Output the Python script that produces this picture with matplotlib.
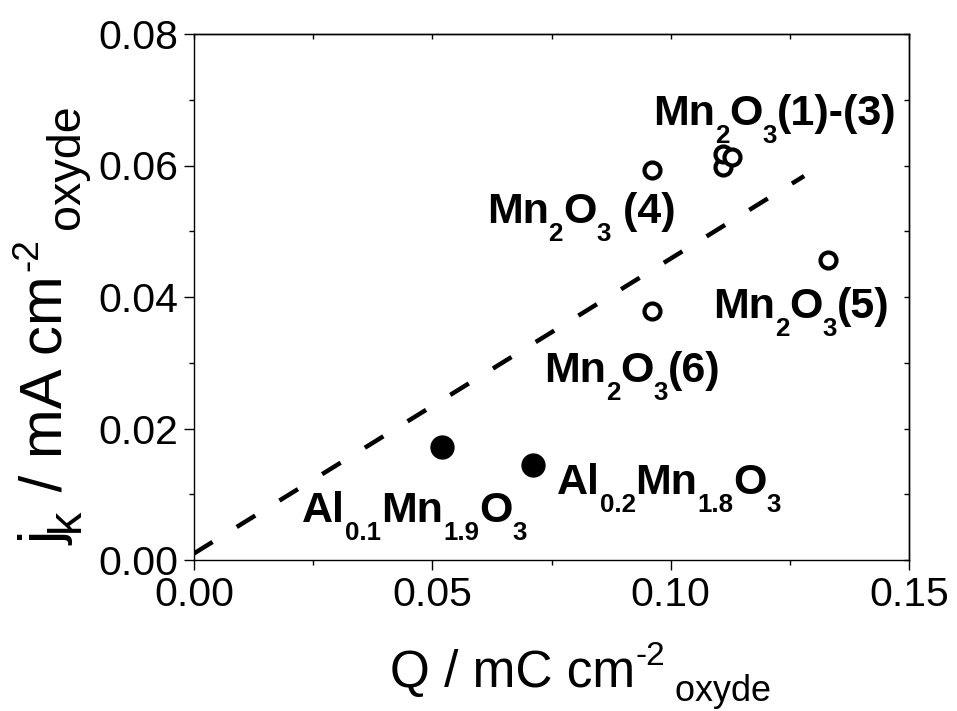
import matplotlib
matplotlib.use("Agg")
import matplotlib.pyplot as plt
from matplotlib.ticker import MultipleLocator, FormatStrFormatter, NullFormatter

plt.rcParams['font.family'] = ['Liberation Sans', 'DejaVu Sans']

# ---- data ----
open_x = [0.111, 0.111, 0.1129, 0.0961, 0.133, 0.0961]
open_y = [0.0598, 0.0617, 0.0613, 0.0593, 0.0456, 0.0378]
filled_x = [0.052, 0.0711]
filled_y = [0.0172, 0.01445]
fit_x = [0.0, 0.128]
fit_y = [0.001, 0.0584]

x_ticks = [0.00, 0.05, 0.10, 0.15]
y_ticks = [0.00, 0.02, 0.04, 0.06, 0.08]

# annotation texts: (parts, x, y)
labels = [
    ([("Mn", "n"), ("2", "sub"), ("O", "n"), ("3", "sub"), ("(1)-(3)", "n")], 0.0963, 0.0662),
    ([("Mn", "n"), ("2", "sub"), ("O", "n"), ("3", "sub"), (" (4)", "n")], 0.0614, 0.0513),
    ([("Mn", "n"), ("2", "sub"), ("O", "n"), ("3", "sub"), ("(5)", "n")], 0.1089, 0.0368),
    ([("Mn", "n"), ("2", "sub"), ("O", "n"), ("3", "sub"), ("(6)", "n")], 0.0734, 0.0271),
    ([("Al", "n"), ("0.1", "sub"), ("Mn", "n"), ("1.9", "sub"), ("O", "n"), ("3", "sub")], 0.0227, 0.0058),
    ([("Al", "n"), ("0.2", "sub"), ("Mn", "n"), ("1.8", "sub"), ("O", "n"), ("3", "sub")], 0.0761, 0.0100),
]

W, H = 957, 711
fig = plt.figure(figsize=(W / 100, H / 100), dpi=100)
L, R, T, B = 194, 909, 34, 560
ax = fig.add_axes([L / W, 1 - B / H, (R - L) / W, (B - T) / H])

ax.plot(fit_x, fit_y, color='black', lw=3.2, dashes=(4.9, 6.4))
ax.plot(open_x, open_y, 'o', ls='none', mfc='white', mec='black', ms=11.5, mew=3.0)
ax.plot(filled_x, filled_y, 'o', ls='none', color='black', ms=16.5)

ax.set_xlim(0, 0.15)
ax.set_ylim(0, 0.08)
ax.set_xticks(x_ticks)
ax.set_yticks(y_ticks)
ax.xaxis.set_minor_locator(MultipleLocator(0.025))
ax.yaxis.set_minor_locator(MultipleLocator(0.01))
ax.xaxis.set_major_formatter(FormatStrFormatter('%.2f'))
ax.yaxis.set_major_formatter(FormatStrFormatter('%.2f'))
ax.tick_params(which='major', direction='out', length=7.2, width=1, labelsize=29.5, pad=4.0)
ax.tick_params(which='minor', direction='out', length=3.6, width=1)
for s in ax.spines.values():
    s.set_linewidth(1)

secx = ax.secondary_xaxis('top')
secx.set_xticks(x_ticks)
secx.xaxis.set_minor_locator(MultipleLocator(0.025))
secx.xaxis.set_major_formatter(NullFormatter())
secx.tick_params(which='both', direction='in', length=3.6, width=1)
secx.spines['top'].set_linewidth(1)
secy = ax.secondary_yaxis('right')
secy.set_yticks(y_ticks)
secy.yaxis.set_minor_locator(MultipleLocator(0.01))
secy.yaxis.set_major_formatter(NullFormatter())
secy.tick_params(which='both', direction='in', length=3.6, width=1)
secy.spines['right'].set_linewidth(1)


def rich(x, y, parts, coords, size, weight='normal', rotation=0,
         sub_scale=0.55, sub_drop=0.4, sup_scale=0.65, sup_rise=0.42):
    prev = None
    for part in parts:
        s, kind = part[0], part[1]
        g = part[2] if len(part) > 2 else 0.0
        if kind == 'n':
            fs, d = size, 0
        elif kind == 'sub':
            fs, d = size * sub_scale, -sub_drop * size
        else:
            fs, d = size * sup_scale, sup_rise * size
        off = (g, d) if rotation == 0 else (-d, g)
        if prev is None:
            xy, xyc = (x, y), coords
        elif rotation == 0:
            xy, xyc = (1, y), (prev, coords)
        else:
            xy, xyc = (x, 1), (coords, prev)
        t = ax.annotate(s, xy=xy, xycoords=xyc, xytext=off, textcoords='offset points',
                        fontsize=fs, fontweight=weight, rotation=rotation,
                        rotation_mode='anchor', ha='left', va='baseline',
                        annotation_clip=False)
        prev = t


for parts, lx, ly in labels:
    rich(lx, ly, parts, 'data', 31, weight='bold', sub_scale=0.6, sub_drop=0.42)

rich(390, H - 687, [("Q / mC cm", "n"), ("-2", "sup"), (" oxyde", "sub")],
     'figure pixels', 37, sub_scale=0.7, sub_drop=0.27, sup_scale=0.65, sup_rise=0.42)
rich(62, H - 545, [("j", "n"), ("k", "sub"), (" / mA cm", "n"), ("-2", "sup", 3), ("oxyde", "sub", 7)],
     'figure pixels', 43, rotation=90, sub_scale=0.78, sub_drop=0.28, sup_scale=0.62, sup_rise=0.42)

fig.savefig('out.png', dpi=100)
